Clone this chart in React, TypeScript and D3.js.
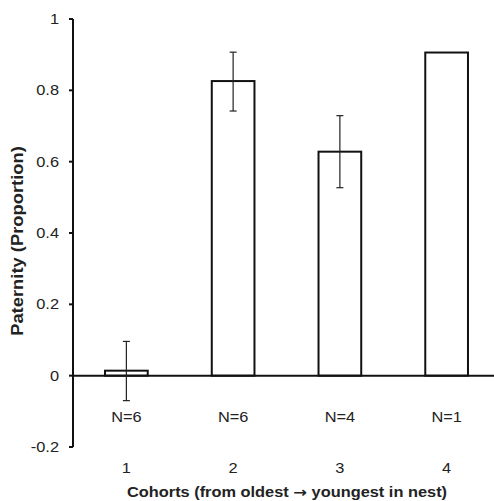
import React from "react";
import * as d3 from "d3";

const categories = ["1", "2", "3", "4"];
const values = [0.014, 0.826, 0.628, 0.906];
const errLow = [-0.07, 0.742, 0.527, null];
const errHigh = [0.096, 0.907, 0.729, null];
const nLabels = ["N=6", "N=6", "N=4", "N=1"];
const yTicks = [-0.2, 0, 0.2, 0.4, 0.6, 0.8, 1];

export default function App() {
  const W = 494, H = 501;
  const axisX = 73;
  const y = d3.scaleLinear().domain([-0.2, 1]).range([447, 19]);
  const x = d3.scaleBand().domain(categories).range([axisX, 500]).paddingInner(0.6).paddingOuter(0.3);
  const font = "'Liberation Sans', Arial, Helvetica, sans-serif";
  const fmt = (v: number) => (v === 0 ? "0" : v === 1 ? "1" : String(Math.round(v * 10) / 10));
  const sx = 1.17;
  const T = (props: { x: number; y: number; anchor: string; children: React.ReactNode; size?: number; bold?: boolean }) => (
    <text transform={`translate(${props.x},${props.y}) scale(${sx},1)`} dy="0.35em" textAnchor={props.anchor}
      fontSize={props.size ?? 14} fontWeight={props.bold ? "bold" : "normal"} fill="#222">{props.children}</text>
  );
  return (
    <svg width={W} height={H} style={{ position: "absolute", left: 0, top: 0 }} fontFamily={font}>
      <rect width={W} height={H} fill="#fff" />
      {categories.map((c, i) => (
        <rect key={c} x={x(c)!} y={y(values[i])} width={x.bandwidth()} height={y(0) - y(values[i])}
          fill="#fff" stroke="#111" strokeWidth={2} />
      ))}
      <line x1={axisX} x2={W} y1={y(0)} y2={y(0)} stroke="#111" strokeWidth={2} />
      {categories.map((c, i) => {
        if (errLow[i] == null) return null;
        const cx = x(c)! + x.bandwidth() / 2;
        return (
          <g key={"e" + c} stroke="#222" strokeWidth={1.2}>
            <line x1={cx} x2={cx} y1={y(errLow[i] as number)} y2={y(errHigh[i] as number)} />
            <line x1={cx - 3.5} x2={cx + 3.5} y1={y(errLow[i] as number)} y2={y(errLow[i] as number)} />
            <line x1={cx - 3.5} x2={cx + 3.5} y1={y(errHigh[i] as number)} y2={y(errHigh[i] as number)} />
          </g>
        );
      })}
      <line x1={axisX} x2={axisX} y1={y(1)} y2={y(-0.2)} stroke="#111" strokeWidth={2} />
      {yTicks.map((t) => (
        <g key={t}>
          <line x1={axisX - 4} x2={axisX} y1={y(t)} y2={y(t)} stroke="#111" strokeWidth={2} />
          <T x={59} y={y(t)} anchor="end">{fmt(t)}</T>
        </g>
      ))}
      {categories.map((c, i) => (
        <T key={"n" + c} x={x(c)! + x.bandwidth() / 2} y={417} anchor="middle">{nLabels[i]}</T>
      ))}
      {categories.map((c) => (
        <T key={"x" + c} x={x(c)! + x.bandwidth() / 2} y={468} anchor="middle">{c}</T>
      ))}
      <T x={287} y={492} anchor="middle" bold>
        Cohorts (from oldest <tspan fontFamily="'DejaVu Sans', sans-serif" fontWeight="bold">→</tspan> youngest in nest)
      </T>
      <text transform={`translate(17,241) rotate(-90) scale(1.08,1)`} dy="0.35em" textAnchor="middle" fontSize={17} fontWeight="bold" fill="#222">Paternity (Proportion)</text>
    </svg>
  );
}
